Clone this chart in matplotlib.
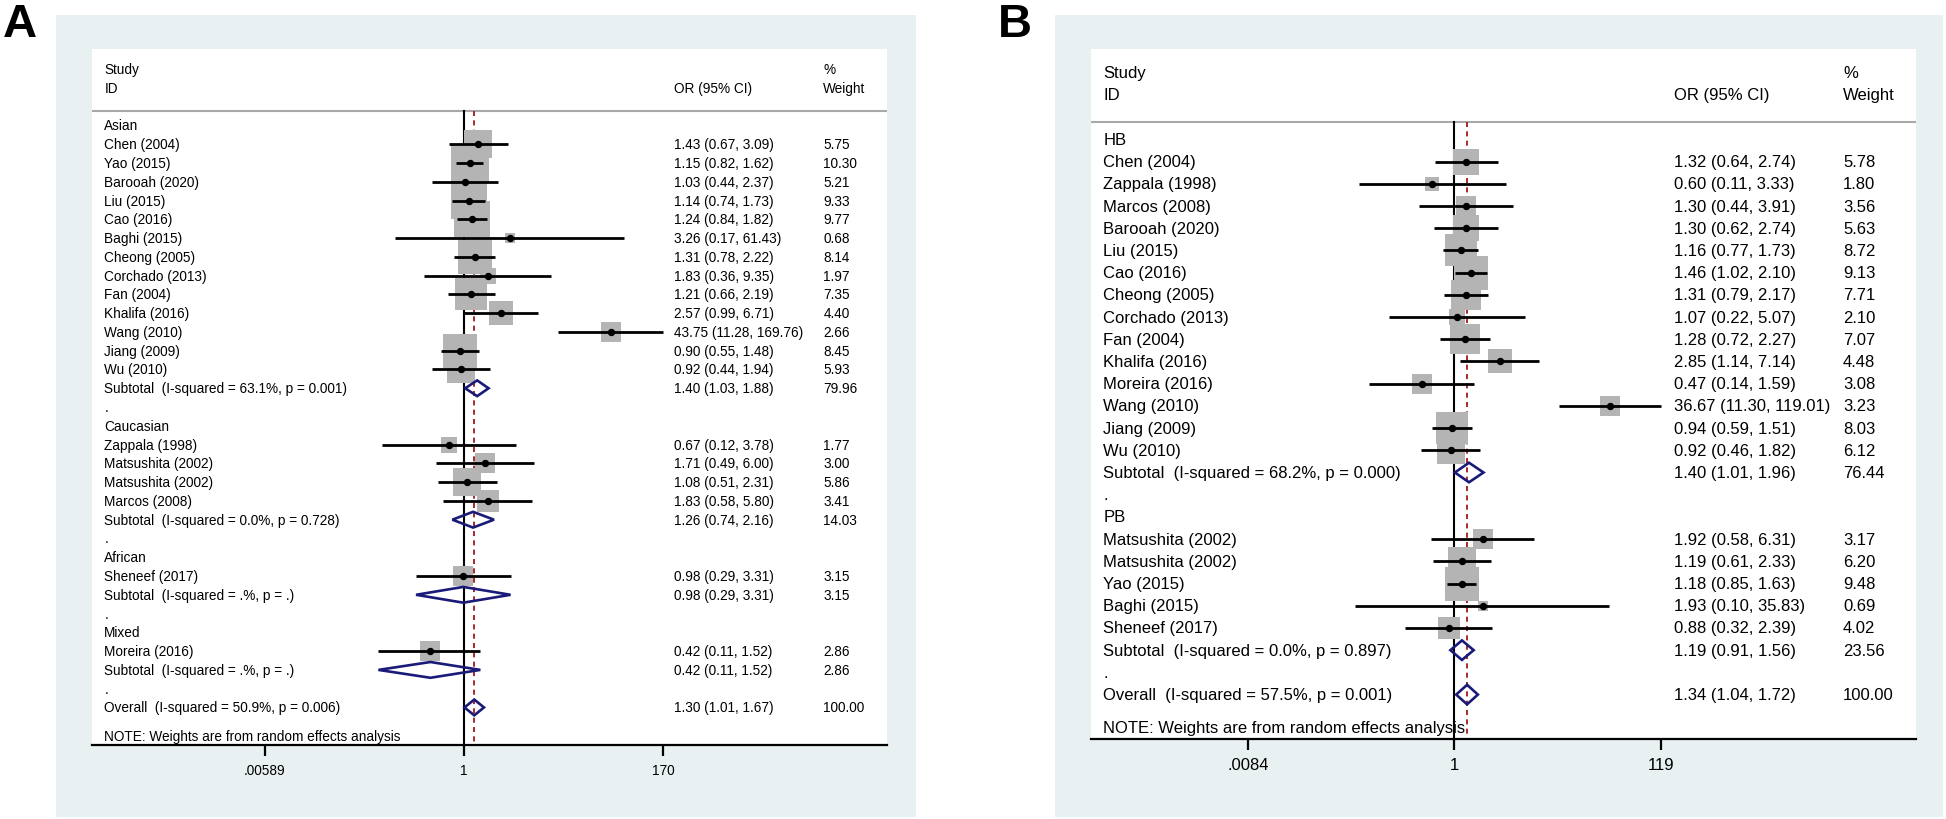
import numpy as np
import matplotlib
matplotlib.use('Agg')
import matplotlib.pyplot as plt
from matplotlib.patches import Rectangle, Polygon
from matplotlib.ticker import NullLocator, FixedLocator, FixedFormatter

plt.rcParams['font.family'] = ['Liberation Sans', 'DejaVu Sans']

# ---- panel A: by ethnicity ----
a_groups = ['Asian', 'Caucasian', 'African', 'Mixed']
a_study = ['Chen (2004)', 'Yao (2015)', 'Barooah (2020)', 'Liu (2015)', 'Cao (2016)',
           'Baghi (2015)', 'Cheong (2005)', 'Corchado (2013)', 'Fan (2004)',
           'Khalifa (2016)', 'Wang (2010)', 'Jiang (2009)', 'Wu (2010)',
           'Zappala (1998)', 'Matsushita (2002)', 'Matsushita (2002)', 'Marcos (2008)',
           'Sheneef (2017)', 'Moreira (2016)']
a_grp = [0] * 13 + [1] * 4 + [2] + [3]
a_or = [1.43, 1.15, 1.03, 1.14, 1.24, 3.26, 1.31, 1.83, 1.21, 2.57, 43.75, 0.90, 0.92,
        0.67, 1.71, 1.08, 1.83, 0.98, 0.42]
a_lo = [0.67, 0.82, 0.44, 0.74, 0.84, 0.17, 0.78, 0.36, 0.66, 0.99, 11.28, 0.55, 0.44,
        0.12, 0.49, 0.51, 0.58, 0.29, 0.11]
a_hi = [3.09, 1.62, 2.37, 1.73, 1.82, 61.43, 2.22, 9.35, 2.19, 6.71, 169.76, 1.48, 1.94,
        3.78, 6.00, 2.31, 5.80, 3.31, 1.52]
a_wt = [5.75, 10.30, 5.21, 9.33, 9.77, 0.68, 8.14, 1.97, 7.35, 4.40, 2.66, 8.45, 5.93,
        1.77, 3.00, 5.86, 3.41, 3.15, 2.86]
a_sub_i2 = ['63.1', '0.0', '.', '.']
a_sub_p = ['0.001', '0.728', '.', '.']
a_sub_or = [1.40, 1.26, 0.98, 0.42]
a_sub_lo = [1.03, 0.74, 0.29, 0.11]
a_sub_hi = [1.88, 2.16, 3.31, 1.52]
a_sub_wt = [79.96, 14.03, 3.15, 2.86]
a_all = ['50.9', '0.006', 1.30, 1.01, 1.67, 100.00]
a_ticks = [0.00589, 1, 170]
a_ticklabels = ['.00589', '1', '170']

# ---- panel B: by source of controls ----
b_groups = ['HB', 'PB']
b_study = ['Chen (2004)', 'Zappala (1998)', 'Marcos (2008)', 'Barooah (2020)', 'Liu (2015)',
           'Cao (2016)', 'Cheong (2005)', 'Corchado (2013)', 'Fan (2004)', 'Khalifa (2016)',
           'Moreira (2016)', 'Wang (2010)', 'Jiang (2009)', 'Wu (2010)',
           'Matsushita (2002)', 'Matsushita (2002)', 'Yao (2015)', 'Baghi (2015)',
           'Sheneef (2017)']
b_grp = [0] * 14 + [1] * 5
b_or = [1.32, 0.60, 1.30, 1.30, 1.16, 1.46, 1.31, 1.07, 1.28, 2.85, 0.47, 36.67, 0.94, 0.92,
        1.92, 1.19, 1.18, 1.93, 0.88]
b_lo = [0.64, 0.11, 0.44, 0.62, 0.77, 1.02, 0.79, 0.22, 0.72, 1.14, 0.14, 11.30, 0.59, 0.46,
        0.58, 0.61, 0.85, 0.10, 0.32]
b_hi = [2.74, 3.33, 3.91, 2.74, 1.73, 2.10, 2.17, 5.07, 2.27, 7.14, 1.59, 119.01, 1.51, 1.82,
        6.31, 2.33, 1.63, 35.83, 2.39]
b_wt = [5.78, 1.80, 3.56, 5.63, 8.72, 9.13, 7.71, 2.10, 7.07, 4.48, 3.08, 3.23, 8.03, 6.12,
        3.17, 6.20, 9.48, 0.69, 4.02]
b_sub_i2 = ['68.2', '0.0']
b_sub_p = ['0.000', '0.897']
b_sub_or = [1.40, 1.19]
b_sub_lo = [1.01, 0.91]
b_sub_hi = [1.96, 1.56]
b_sub_wt = [76.44, 23.56]
b_all = ['57.5', '0.001', 1.34, 1.04, 1.72, 100.00]
b_ticks = [0.0084, 1, 119]
b_ticklabels = ['.0084', '1', '119']

W, H = 1946, 820
fig = plt.figure(figsize=(W / 100, H / 100), dpi=100)
fig.patch.set_facecolor('white')

BG = '#e8f0f2'
GREY = '#b4b4b4'
NAVY = '#1a1a78'
RED = '#a52a2a'


def px_rect(l, t, r, b):
    return [l / W, 1 - b / H, (r - l) / W, (b - t) / H]


def forest(frame, white, lnlim, groups, study, grp, or_, lo, hi, wt,
           sub_i2, sub_p, sub_or, sub_lo, sub_hi, sub_wt, tot, ticks, ticklabels,
           fs, box_k, dh, cols, letter, letter_x):
    l, t, r, b = frame
    fig.patches.append(Rectangle((l / W, 1 - b / H), (r - l) / W, (b - t) / H,
                                 transform=fig.transFigure, facecolor=BG,
                                 edgecolor='none', zorder=-5))
    fig.text(letter_x / W, 1 - 37 / H, letter, fontsize=34, fontweight='bold',
             va='baseline', ha='left')
    ax = fig.add_axes(px_rect(*white))
    ax.set_zorder(2)
    ax.set_facecolor('white')
    ax.set_xscale('log')

    tr = ax.get_yaxis_transform()
    xl, xo, xw = cols

    # build row layout
    y = 0
    rows = []
    for g, name in enumerate(groups):
        if g > 0:
            rows.append((y, 'dot', None)); y += 1
        rows.append((y, 'group', name)); y += 1
        for i in range(len(study)):
            if grp[i] == g:
                rows.append((y, 'study', i)); y += 1
        rows.append((y, 'sub', g)); y += 1
    rows.append((y, 'dot', None)); y += 1
    rows.append((y, 'all', None))
    last = y
    top = -4.07
    sep = -0.77

    # header
    ax.text(xl, -3, 'Study', transform=tr, fontsize=fs, va='center')
    ax.text(xl, -2, 'ID', transform=tr, fontsize=fs, va='center')
    ax.text(xo, -2, 'OR (95% CI)', transform=tr, fontsize=fs, va='center')
    ax.text(xw, -3, '%', transform=tr, fontsize=fs, va='center')
    ax.text(xw, -2, 'Weight', transform=tr, fontsize=fs, va='center')
    ax.axhline(sep, color='#a8a8a8', lw=1.5, zorder=1)

    # reference lines
    ax.plot([1, 1], [sep, last + 2], color='black', lw=1.5, zorder=1)
    ax.plot([tot[2], tot[2]], [sep, last + 2], color=RED, lw=1.4,
            linestyle=(0, (2.6, 2.2)), zorder=1)

    def diamond(yy, est, lo_, hi_):
        ax.add_patch(Polygon([(lo_, yy), (est, yy - dh), (hi_, yy), (est, yy + dh)],
                             closed=True, facecolor='none', edgecolor=NAVY,
                             lw=1.9, zorder=4))

    for yy, kind, k in rows:
        if kind == 'dot':
            ax.text(xl, yy, '.', transform=tr, fontsize=fs, va='center')
        elif kind == 'group':
            ax.text(xl, yy, k, transform=tr, fontsize=fs, va='center')
        elif kind == 'study':
            ax.text(xl, yy, study[k], transform=tr, fontsize=fs, va='center')
            side = box_k * np.sqrt(wt[k]) * 0.72
            ax.scatter([or_[k]], [yy], s=side ** 2, marker='s', color=GREY,
                       linewidths=0, zorder=2)
            ax.plot([lo[k], hi[k]], [yy, yy], color='black', lw=2.0, zorder=3,
                    solid_capstyle='butt')
            ax.plot([or_[k]], [yy], marker='o', ms=4.3, color='black', zorder=5)
            ax.text(xo, yy, f'{or_[k]:.2f} ({lo[k]:.2f}, {hi[k]:.2f})', transform=tr,
                    fontsize=fs, va='center')
            ax.text(xw, yy, f'{wt[k]:.2f}', transform=tr, fontsize=fs, va='center')
        elif kind == 'sub':
            ax.text(xl, yy, f'Subtotal  (I-squared = {sub_i2[k]}%, p = {sub_p[k]})',
                    transform=tr, fontsize=fs, va='center')
            diamond(yy, sub_or[k], sub_lo[k], sub_hi[k])
            ax.text(xo, yy, f'{sub_or[k]:.2f} ({sub_lo[k]:.2f}, {sub_hi[k]:.2f})',
                    transform=tr, fontsize=fs, va='center')
            ax.text(xw, yy, f'{sub_wt[k]:.2f}', transform=tr, fontsize=fs, va='center')
        else:
            ax.text(xl, yy, f'Overall  (I-squared = {tot[0]}%, p = {tot[1]})',
                    transform=tr, fontsize=fs, va='center')
            diamond(yy, tot[2], tot[3], tot[4])
            ax.text(xo, yy, f'{tot[2]:.2f} ({tot[3]:.2f}, {tot[4]:.2f})',
                    transform=tr, fontsize=fs, va='center')
            ax.text(xw, yy, f'{tot[5]:.2f}', transform=tr, fontsize=fs, va='center')

    ax.text(xl, last + 1.5, 'NOTE: Weights are from random effects analysis',
            transform=tr, fontsize=fs, va='center')

    ax.set_xlim(np.exp(lnlim[0]), np.exp(lnlim[1]))
    ax.set_ylim(last + 2, top)
    for s in ['top', 'left', 'right']:
        ax.spines[s].set_visible(False)
    ax.spines['bottom'].set_linewidth(1.6)
    ax.xaxis.set_major_locator(FixedLocator(ticks))
    ax.xaxis.set_major_formatter(FixedFormatter(ticklabels))
    ax.xaxis.set_minor_locator(NullLocator())
    ax.tick_params(axis='x', length=8, width=1.6, labelsize=fs, pad=5)
    ax.set_yticks([])
    return ax


forest((56, 16, 916, 818), (92, 50, 887, 746), (-9.59, 10.90),
       a_groups, a_study, a_grp, a_or, a_lo, a_hi, a_wt,
       a_sub_i2, a_sub_p, a_sub_or, a_sub_lo, a_sub_hi, a_sub_wt, a_all,
       a_ticks, a_ticklabels, 9.8, 11.65, 0.42, (0.0155, 0.7325, 0.920), 'A', 3)

forest((1055, 16, 1943, 818), (1091, 50, 1916, 740), (-8.41, 10.68),
       b_groups, b_study, b_grp, b_or, b_lo, b_hi, b_wt,
       b_sub_i2, b_sub_p, b_sub_or, b_sub_lo, b_sub_hi, b_sub_wt, b_all,
       b_ticks, b_ticklabels, 12.0, 11.0, 0.44, (0.0149, 0.7064, 0.9115), 'B', 998)

fig.savefig('out.png', dpi=100)
